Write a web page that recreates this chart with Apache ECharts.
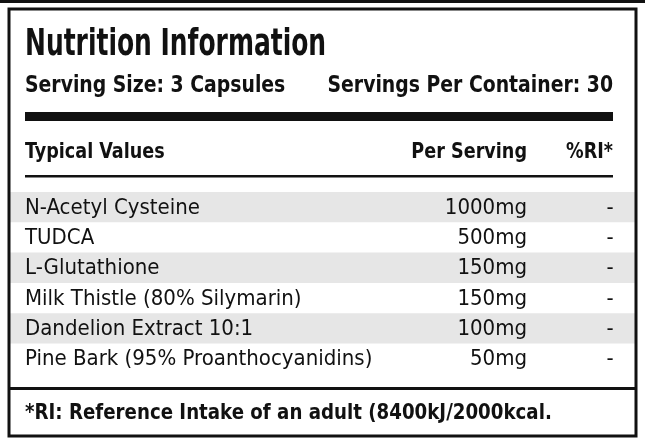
<!DOCTYPE html>
<html><head><meta charset="utf-8">
<script src="https://cdn.jsdelivr.net/npm/echarts@6/dist/echarts.min.js"></script>
<style>html,body{margin:0;padding:0;background:#fff}#c{width:645px;height:447px}</style>
</head><body><div id="c"></div>
<script>
const title = "Nutrition Information";
const servingSize = "Serving Size: 3 Capsules";
const servingsPer = "Servings Per Container: 30";
const headers = ["Typical Values", "Per Serving", "%RI*"];
const ingredients = ["N-Acetyl Cysteine","TUDCA","L-Glutathione","Milk Thistle (80% Silymarin)","Dandelion Extract 10:1","Pine Bark (95% Proanthocyanidins)"];
const amounts = ["1000mg","500mg","150mg","150mg","100mg","50mg"];
const ri = ["-","-","-","-","-","-"];
const footnote = "*RI: Reference Intake of an adult (8400kJ/2000kcal.";

const F = '"Liberation Sans Narrow","DejaVu Sans Condensed","Roboto Condensed",sans-serif';
const chart = echarts.init(document.getElementById('c'));
const g = [];
function t(x,y,text,font,align,sx){
  g.push({type:'text',x:x,y:y,scaleX:sx||1,style:{text:text,font:font,fill:'#111',align:align||'left',verticalAlign:'middle'}});
}
g.push({type:'rect',shape:{x:0,y:0,width:645,height:3},style:{fill:'#111'}});
g.push({type:'rect',shape:{x:9,y:9,width:627,height:427},style:{fill:'none',stroke:'#111',lineWidth:3}});
t(25,45,title,'bold 38px '+F,'left',0.73);
t(25,86,servingSize,'bold 23px '+F,'left',0.91);
t(613,86,servingsPer,'bold 23px '+F,'right',0.91);
g.push({type:'rect',shape:{x:25,y:112,width:588,height:9},style:{fill:'#111'}});
t(25,152,headers[0],'bold 22px '+F,'left',0.89);
t(527,152,headers[1],'bold 22px '+F,'right',0.89);
t(613,152,headers[2],'bold 22px '+F,'right',0.89);
g.push({type:'rect',shape:{x:25,y:175,width:588,height:2.5},style:{fill:'#111'}});
const top0 = 192, rh = 30.3;
ingredients.forEach((n,i)=>{
  const y0 = top0 + i*rh;
  if(i%2===0) g.push({type:'rect',z:-1,shape:{x:10,y:y0,width:625,height:rh},style:{fill:'#e6e6e6'}});
  const cy = y0 + rh/2 + 1;
  t(25,cy,n,'22px '+F,'left',1);
  t(527,cy,amounts[i],'22px '+F,'right',1);
  t(610,cy,ri[i],'22px '+F,'center',1);
});
g.push({type:'rect',shape:{x:9,y:387,width:627,height:3},style:{fill:'#111'}});
t(25,413,footnote,'bold 22px '+F,'left',0.92);
chart.setOption({animation:false,graphic:g});
</script></body></html>
